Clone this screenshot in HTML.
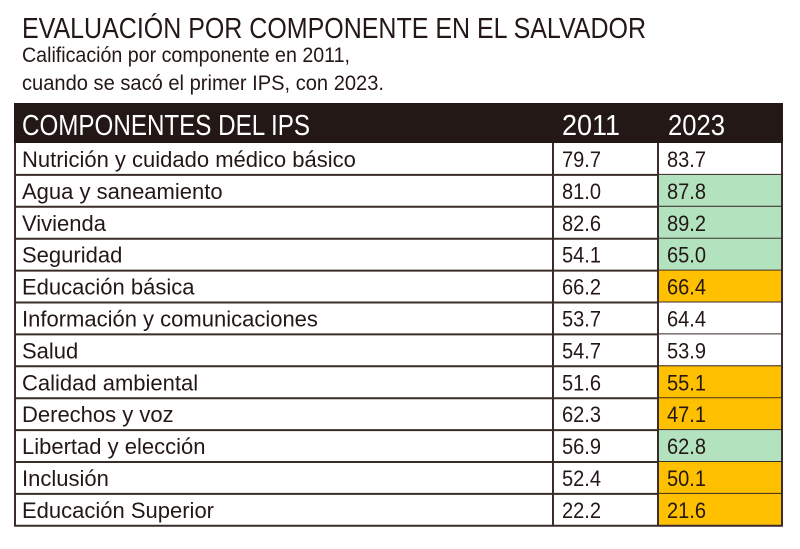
<!DOCTYPE html>
<html><head><meta charset="utf-8"><style>
html,body{margin:0;padding:0;background:#fff;}
svg{display:block;font-family:"Liberation Sans Narrow","Liberation Sans",sans-serif;}
</style></head><body>
<svg width="800" height="549" viewBox="0 0 800 549">
<text x="22" y="38" font-size="29" fill="#231815" textLength="624" lengthAdjust="spacingAndGlyphs">EVALUACIÓN POR COMPONENTE EN EL SALVADOR</text>
<text x="22" y="62" font-size="21" fill="#231815" textLength="328" lengthAdjust="spacingAndGlyphs">Calificación por componente en 2011,</text>
<text x="22" y="90" font-size="21" fill="#231815" textLength="362" lengthAdjust="spacingAndGlyphs">cuando se sacó el primer IPS, con 2023.</text>
<rect x="14" y="103" width="769" height="40" fill="#231815"/>
<text x="22" y="135" font-size="29" fill="#fff" textLength="288" lengthAdjust="spacingAndGlyphs">COMPONENTES DEL IPS</text>
<text x="562" y="135" font-size="29" fill="#fff" textLength="58" lengthAdjust="spacingAndGlyphs">2011</text>
<text x="668" y="135" font-size="29" fill="#fff" textLength="57" lengthAdjust="spacingAndGlyphs">2023</text>
<g id="rows" font-size="22" fill="#231815"></g>
</svg>
<script>
var d=[["Nutrición y cuidado médico básico","79.7","83.7",""],["Agua y saneamiento","81.0","87.8","g"],["Vivienda","82.6","89.2","g"],["Seguridad","54.1","65.0","g"],["Educación básica","66.2","66.4","o"],["Información y comunicaciones","53.7","64.4",""],["Salud","54.7","53.9",""],["Calidad ambiental","51.6","55.1","o"],["Derechos y voz","62.3","47.1","o"],["Libertad y elección","56.9","62.8","g"],["Inclusión","52.4","50.1","o"],["Educación Superior","22.2","21.6","o"]];
var s="",h=31.9,y0=143;
d.forEach(function(r,i){var y=y0+i*h;
var f=r[3]=="g"?"#b3e2bf":r[3]=="o"?"#ffc000":"#fff";
s+='<rect x="658" y="'+y+'" width="125" height="'+h+'" fill="'+f+'"/>';
s+='<text x="22" y="'+(y+24)+'">'+r[0]+'</text><text x="562" y="'+(y+24)+'" textLength="39" lengthAdjust="spacingAndGlyphs">'+r[1]+'</text><text x="667" y="'+(y+24)+'" textLength="39" lengthAdjust="spacingAndGlyphs">'+r[2]+'</text>';
s+='<line x1="14" x2="783" y1="'+(y+h)+'" y2="'+(y+h)+'" stroke="#3a2c28" stroke-width="2"/>';});
s+='<line x1="15" x2="15" y1="143" y2="526" stroke="#3a2c28" stroke-width="2"/><line x1="782" x2="782" y1="143" y2="526" stroke="#3a2c28" stroke-width="2"/><line x1="553" x2="553" y1="143" y2="526" stroke="#3a2c28" stroke-width="2"/><line x1="658" x2="658" y1="143" y2="526" stroke="#3a2c28" stroke-width="2"/>';
document.getElementById("rows").innerHTML=s;
</script>
</body></html>
